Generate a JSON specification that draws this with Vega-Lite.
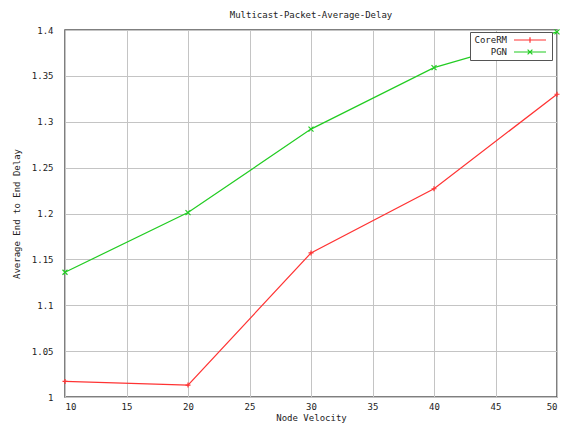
{
  "$schema": "https://vega.github.io/schema/vega-lite/v6.json",
  "autosize": "none",
  "width": 492,
  "height": 367,
  "padding": {"left": 65, "top": 30, "right": 11, "bottom": 30},
  "background": "white",
  "title": {
    "text": "Multicast-Packet-Average-Delay",
    "font": "DejaVu Sans Mono",
    "fontSize": 9,
    "fontWeight": "normal",
    "color": "#222",
    "offset": 6,
    "anchor": "middle"
  },
  "config": {
    "view": {"stroke": "#555", "strokeWidth": 1.5},
    "axis": {
      "labelFont": "DejaVu Sans Mono",
      "titleFont": "DejaVu Sans Mono",
      "labelFontSize": 9,
      "titleFontSize": 9,
      "titleFontWeight": "normal",
      "labelColor": "#222",
      "titleColor": "#222",
      "gridColor": "#c4c4c4",
      "gridWidth": 1,
      "gridOpacity": 1,
      "domain": false,
      "ticks": false
    }
  },
  "data": {
    "values": [
      {"velocity": 10, "delay": 1.017, "series": "CoreRM"},
      {"velocity": 20, "delay": 1.013, "series": "CoreRM"},
      {"velocity": 30, "delay": 1.157, "series": "CoreRM"},
      {"velocity": 40, "delay": 1.227, "series": "CoreRM"},
      {"velocity": 50, "delay": 1.330, "series": "CoreRM"},
      {"velocity": 10, "delay": 1.136, "series": "PGN"},
      {"velocity": 20, "delay": 1.201, "series": "PGN"},
      {"velocity": 30, "delay": 1.292, "series": "PGN"},
      {"velocity": 40, "delay": 1.359, "series": "PGN"},
      {"velocity": 50, "delay": 1.398, "series": "PGN"}
    ]
  },
  "encoding": {
    "x": {
      "field": "velocity",
      "type": "quantitative",
      "scale": {"domain": [10, 50], "nice": false},
      "axis": {"title": "Node Velocity", "values": [10, 15, 20, 25, 30, 35, 40, 45, 50], "labelPadding": 5, "titlePadding": 2, "format": "d"}
    },
    "y": {
      "field": "delay",
      "type": "quantitative",
      "scale": {"domain": [1, 1.4], "nice": false, "zero": false},
      "axis": {"title": "Average End to End Delay", "values": [1, 1.05, 1.1, 1.15, 1.2, 1.25, 1.3, 1.35, 1.4], "labelPadding": 12, "titlePadding": 10, "format": "~g"}
    }
  },
  "layer": [
    {
      "mark": {"type": "line", "strokeWidth": 1.2},
      "encoding": {
        "color": {
          "field": "series",
          "type": "nominal",
          "scale": {"domain": ["CoreRM", "PGN"], "range": ["#ff3333", "#22cc22"]},
          "legend": {
            "title": null,
            "orient": "none",
            "legendX": 405,
            "legendY": 2,
            "symbolSize": 64,
            "symbolStrokeWidth": 1.2,
            "symbolOffset": 52,
            "labelAlign": "right",
            "labelOffset": -28,
            "labelFont": "DejaVu Sans Mono",
            "labelFontSize": 9,
            "labelColor": "#222",
            "strokeColor": "#555",
            "fillColor": "white",
            "padding": 3,
            "rowPadding": 1,
            "encode": {
              "symbols": {
                "update": {
                  "shape": {"signal": "datum.value === 'CoreRM' ? 'M-4,0L4,0M0,-0.7L0,0.7' : 'M-4,0L4,0M-0.6,-0.6L0.6,0.6M-0.6,0.6L0.6,-0.6'"},
                  "fill": {"value": "transparent"}
                }
              }
            }
          }
        }
      }
    },
    {
      "transform": [{"filter": "datum.series === 'CoreRM'"}],
      "mark": {"type": "point", "filled": false, "size": 25, "strokeWidth": 1.2, "opacity": 1, "color": "#ff3333", "shape": "M-1,0L1,0M0,-1L0,1"}
    },
    {
      "transform": [{"filter": "datum.series === 'PGN'"}],
      "mark": {"type": "point", "filled": false, "size": 25, "strokeWidth": 1.2, "opacity": 1, "color": "#22cc22", "shape": "M-1,-1L1,1M-1,1L1,-1"}
    }
  ]
}
